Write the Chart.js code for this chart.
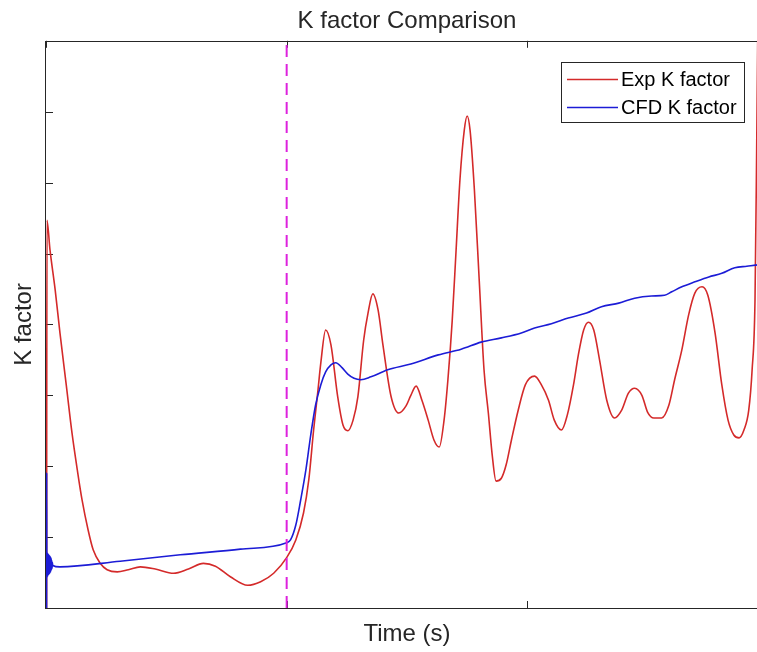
<!DOCTYPE html>
<html>
<head>
<meta charset="utf-8">
<script src="https://cdn.jsdelivr.net/npm/chart.js@4.4.1/dist/chart.umd.min.js"></script>
<style>
  html, body { margin: 0; padding: 0; background: #fff; overflow: hidden; }
  #wrap { width: 814px; height: 652px; }
</style>
</head>
<body>
<div id="wrap"><canvas id="c" width="814" height="652"></canvas></div>
<script>
// ---- data (arbitrary units) ----
const chartTitle = 'K factor Comparison';
const xLabel = 'Time (s)';
const yLabel = 'K factor';
const seriesNames = ['Exp K factor', 'CFD K factor'];
const xTicks = [0, 0.5, 1, 1.5];
const yTicks = [0, 1, 2, 3, 4, 5, 6, 7, 8];
const markerTime = 0.5;

const expTime = [0.0012, 0.002, 0.0083, 0.019, 0.029, 0.042, 0.054, 0.065, 0.075, 0.0875, 0.098, 0.1125, 0.127, 0.148, 0.171, 0.196, 0.227, 0.265, 0.296, 0.327, 0.352, 0.383, 0.419, 0.446, 0.473, 0.5, 0.519, 0.535, 0.546, 0.556, 0.565, 0.571, 0.581, 0.592, 0.606, 0.617, 0.627, 0.638, 0.648, 0.660, 0.669, 0.679, 0.690, 0.700, 0.717, 0.733, 0.748, 0.758, 0.769, 0.781, 0.794, 0.806, 0.817, 0.827, 0.835, 0.844, 0.852, 0.860, 0.869, 0.875, 0.881, 0.890, 0.900, 0.910, 0.919, 0.927, 0.935, 0.946, 0.956, 0.967, 0.981, 0.996, 1.015, 1.029, 1.044, 1.056, 1.071, 1.083, 1.096, 1.106, 1.117, 1.127, 1.138, 1.150, 1.165, 1.181, 1.196, 1.210, 1.223, 1.238, 1.250, 1.263, 1.279, 1.294, 1.306, 1.321, 1.335, 1.348, 1.363, 1.375, 1.390, 1.404, 1.417, 1.429, 1.440, 1.450, 1.460, 1.467, 1.473, 1.4765, 1.4795];
const expK = [0, 5.47, 5.05, 4.49, 3.88, 3.15, 2.47, 1.95, 1.52, 1.10, 0.82, 0.63, 0.54, 0.51, 0.54, 0.58, 0.55, 0.49, 0.55, 0.63, 0.59, 0.44, 0.32, 0.37, 0.49, 0.71, 0.96, 1.34, 1.81, 2.51, 3.07, 3.46, 3.92, 3.71, 2.98, 2.58, 2.50, 2.65, 2.98, 3.78, 4.16, 4.43, 4.20, 3.71, 2.98, 2.75, 2.85, 3.00, 3.13, 2.93, 2.65, 2.37, 2.27, 2.65, 3.22, 4.06, 5.05, 6.04, 6.74, 6.94, 6.74, 5.90, 4.63, 3.36, 2.75, 2.16, 1.79, 1.83, 2.02, 2.37, 2.79, 3.15, 3.27, 3.15, 2.93, 2.65, 2.51, 2.72, 3.15, 3.57, 3.92, 4.03, 3.92, 3.50, 2.93, 2.68, 2.79, 3.03, 3.10, 3.00, 2.76, 2.68, 2.68, 2.86, 3.22, 3.64, 4.13, 4.44, 4.53, 4.41, 3.88, 3.15, 2.65, 2.44, 2.40, 2.51, 2.79, 3.36, 4.34, 6.5, 8.6];

const cfdTime = [0.0012, 0.0013, 0.0018, 0.0024, 0.003, 0.0036, 0.0042, 0.0048, 0.0054, 0.006, 0.0066, 0.0072, 0.0078, 0.0084, 0.009, 0.0096, 0.0102, 0.0108, 0.0114, 0.012, 0.0126, 0.0132, 0.014, 0.029, 0.154, 0.279, 0.404, 0.5, 0.508, 0.519, 0.529, 0.540, 0.550, 0.560, 0.571, 0.581, 0.592, 0.602, 0.615, 0.627, 0.640, 0.654, 0.675, 0.710, 0.758, 0.815, 0.8625, 0.904, 0.946, 0.9875, 1.015, 1.050, 1.085, 1.123, 1.154, 1.190, 1.223, 1.258, 1.285, 1.300, 1.321, 1.348, 1.377, 1.404, 1.431, 1.456, 1.481, 1.5];
const cfdK = [0, 1.90, 0.46, 0.78, 0.44, 0.77, 0.46, 0.76, 0.47, 0.75, 0.48, 0.74, 0.49, 0.73, 0.50, 0.72, 0.52, 0.70, 0.54, 0.67, 0.56, 0.64, 0.60, 0.58, 0.66, 0.75, 0.83, 0.92, 0.96, 1.17, 1.52, 1.95, 2.44, 2.86, 3.15, 3.33, 3.43, 3.46, 3.39, 3.30, 3.24, 3.22, 3.26, 3.36, 3.44, 3.57, 3.65, 3.75, 3.81, 3.88, 3.95, 4.01, 4.09, 4.16, 4.25, 4.30, 4.37, 4.40, 4.41, 4.46, 4.53, 4.60, 4.67, 4.72, 4.80, 4.82, 4.84, 4.85];

// ---- styles ----
const FONT = "'Liberation Sans', Arial, Helvetica, sans-serif";
const AXIS_COLOR = '#262626';
const RED = '#d42a2a';
const BLUE = '#1c1cd6';
const MAGENTA = '#dd22dd';

const toXY = (xs, ys) => xs.map((x, i) => ({ x: x, y: ys[i] }));

// axes box with inward ticks (MATLAB style) and in-plot legend
const boxPlugin = {
  id: 'box',
  beforeDatasetsDraw(chart) {
    const { ctx, chartArea: a, scales } = chart;
    ctx.save();
    ctx.strokeStyle = AXIS_COLOR;
    ctx.lineWidth = 1;
    const tl = 7;
    ctx.beginPath();
    xTicks.forEach(v => {
      const px = Math.round(scales.x.getPixelForValue(v)) + 0.5;
      ctx.moveTo(px, a.bottom); ctx.lineTo(px, a.bottom - tl);
      ctx.moveTo(px, a.top); ctx.lineTo(px, a.top + tl);
    });
    yTicks.forEach(v => {
      const py = Math.round(scales.y.getPixelForValue(v)) + 0.5;
      ctx.moveTo(a.left, py); ctx.lineTo(a.left + tl, py);
      ctx.moveTo(a.right, py); ctx.lineTo(a.right - tl, py);
    });
    ctx.stroke();
    ctx.restore();
  },
  afterDatasetsDraw(chart) {
    const { ctx, chartArea: a } = chart;
    ctx.save();
    ctx.strokeStyle = AXIS_COLOR;
    ctx.lineWidth = 1;
    ctx.strokeRect(Math.round(a.left) - 0.5, Math.round(a.top) + 0.5,
                   Math.round(a.right - a.left), Math.round(a.bottom - a.top));
    ctx.restore();
  },
  afterDraw(chart) {
    const { ctx } = chart;
    const bx = 561.5, by = 62.5, bw = 183, bh = 60;
    ctx.save();
    ctx.fillStyle = '#fff';
    ctx.fillRect(bx, by, bw, bh);
    ctx.strokeStyle = AXIS_COLOR;
    ctx.lineWidth = 1;
    ctx.strokeRect(bx, by, bw, bh);
    ctx.font = '20px ' + FONT;
    ctx.textBaseline = 'middle';
    ctx.fillStyle = '#000';
    seriesNames.forEach((name, i) => {
      const d = chart.data.datasets.find(s => s.label === name);
      const y = 79.5 + i * 28;
      ctx.strokeStyle = d.borderColor;
      ctx.lineWidth = 1.5;
      ctx.beginPath();
      ctx.moveTo(567, y); ctx.lineTo(618, y);
      ctx.stroke();
      ctx.fillText(name, 621, y + 1);
    });
    ctx.restore();
  }
};

new Chart(document.getElementById('c'), {
  type: 'line',
  data: {
    datasets: [
      {
        label: 'marker',
        data: [{ x: markerTime, y: yTicks[0] }, { x: markerTime, y: yTicks[yTicks.length - 1] }],
        borderColor: MAGENTA, borderWidth: 2, borderDash: [12, 7],
        pointRadius: 0, order: 0
      },
      {
        label: seriesNames[1],
        data: toXY(cfdTime, cfdK),
        borderColor: BLUE, borderWidth: 1.6,
        pointRadius: 0, order: 1, cubicInterpolationMode: 'monotone'
      },
      {
        label: seriesNames[0],
        data: toXY(expTime, expK),
        borderColor: RED, borderWidth: 1.6,
        pointRadius: 0, order: 2, cubicInterpolationMode: 'monotone'
      }
    ]
  },
  options: {
    responsive: false,
    animation: false,
    events: [],
    layout: { padding: { left: 0, right: 46, top: 0, bottom: 0 } },
    plugins: {
      legend: { display: false },
      tooltip: { enabled: false },
      title: {
        display: true, text: chartTitle, color: AXIS_COLOR, fullSize: false,
        font: { family: FONT, size: 24, weight: 'normal', lineHeight: 1.2 },
        padding: { top: 7, bottom: 5 }
      }
    },
    scales: {
      x: {
        type: 'linear', min: xTicks[0], max: xTicks[xTicks.length - 1],
        grid: { display: false, drawTicks: false, tickLength: 0 }, border: { display: false },
        ticks: { display: false },
        title: {
          display: true, text: xLabel, color: AXIS_COLOR,
          font: { family: FONT, size: 24, lineHeight: 1.2 },
          padding: { top: 12.2, bottom: 3 }
        }
      },
      y: {
        type: 'linear', min: yTicks[0], max: yTicks[yTicks.length - 1],
        grid: { display: false, drawTicks: false, tickLength: 0 }, border: { display: false },
        ticks: { display: false },
        title: {
          display: true, text: yLabel, color: AXIS_COLOR,
          font: { family: FONT, size: 24, lineHeight: 1.2 },
          padding: { top: 10, bottom: 7.2 }
        }
      }
    }
  },
  plugins: [boxPlugin]
});
</script>
</body>
</html>
